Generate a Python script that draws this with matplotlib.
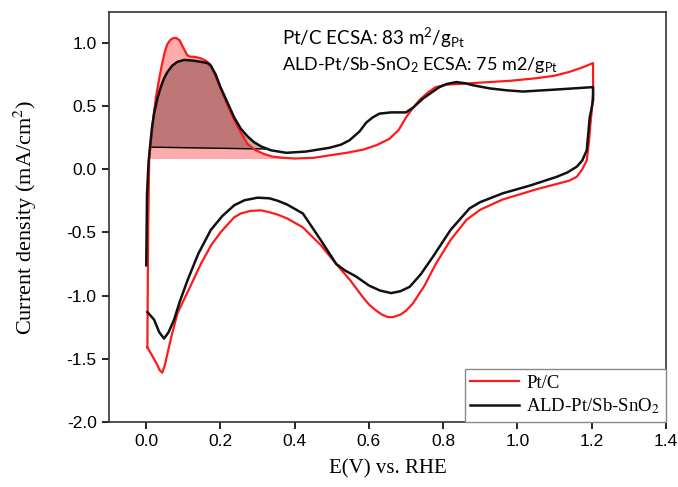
import numpy as np
import matplotlib
matplotlib.use("Agg")
import matplotlib.pyplot as plt

# ---------------- data ----------------
# Pt/C cyclic voltammogram (closed loop: anodic scan then cathodic scan)
ptc_x = [0.003, 0.005, 0.008, 0.012, 0.018, 0.026, 0.035, 0.043, 0.05, 0.057, 0.064, 0.07, 0.08,
         0.09, 0.10, 0.111, 0.12, 0.129, 0.145, 0.16, 0.172, 0.183, 0.2, 0.22, 0.237,
         0.255, 0.273, 0.295, 0.318, 0.34, 0.37, 0.40, 0.45, 0.494, 0.54, 0.584, 0.62,
         0.655, 0.68, 0.70, 0.72, 0.737, 0.76, 0.78, 0.81, 0.84, 0.871, 0.925, 0.98,
         1.05, 1.10, 1.14, 1.17, 1.204,
         1.204, 1.2, 1.197, 1.193, 1.187, 1.175, 1.16, 1.14, 1.114, 1.05, 0.96, 0.90, 0.863, 0.82,
         0.78, 0.75, 0.719, 0.70, 0.685, 0.665, 0.651, 0.635, 0.62, 0.60, 0.583, 0.55, 0.512, 0.47,
         0.422, 0.38, 0.355,
         0.332, 0.309, 0.28, 0.255, 0.237, 0.2, 0.175, 0.147, 0.115, 0.084, 0.068, 0.057,
         0.05, 0.043, 0.036, 0.03, 0.015, 0.003]
ptc_y = [-1.41, -0.5, 0.09, 0.2, 0.38, 0.57, 0.72, 0.84, 0.93, 0.99, 1.02, 1.035, 1.04,
         1.02, 0.96, 0.90, 0.89, 0.89, 0.88, 0.86, 0.83, 0.76, 0.64, 0.50, 0.39,
         0.29, 0.20, 0.15, 0.12, 0.10, 0.09, 0.085, 0.09, 0.11, 0.13, 0.155, 0.19,
         0.24, 0.31, 0.41, 0.49, 0.55, 0.61, 0.65, 0.67, 0.675, 0.68, 0.69, 0.70,
         0.72, 0.74, 0.77, 0.80, 0.84,
         0.60, 0.45, 0.36, 0.22, 0.07, 0.0, -0.06, -0.09, -0.11, -0.16, -0.24, -0.32, -0.40, -0.56,
         -0.75, -0.92, -1.06, -1.12, -1.15, -1.17, -1.17, -1.15, -1.12, -1.07, -1.01, -0.88, -0.75, -0.60,
         -0.46, -0.39, -0.36,
         -0.34, -0.325, -0.33, -0.35, -0.38, -0.50, -0.60, -0.75, -0.95, -1.14, -1.32, -1.46,
         -1.55, -1.61, -1.59, -1.55, -1.47, -1.41]

# ALD-Pt/Sb-SnO2 cyclic voltammogram
ald_x = [0.0, 0.002, 0.006, 0.01, 0.015, 0.021, 0.03, 0.039, 0.048, 0.057, 0.07, 0.084, 0.102,
         0.125, 0.147, 0.165, 0.174, 0.187, 0.20, 0.22, 0.237, 0.255, 0.273, 0.29, 0.31, 0.336,
         0.377, 0.43, 0.494, 0.525, 0.548, 0.575, 0.593, 0.61, 0.628, 0.66, 0.70, 0.72, 0.746,
         0.77, 0.79, 0.81, 0.836, 0.86, 0.88, 0.925, 0.97, 1.015, 1.1, 1.204,
         1.204, 1.2, 1.195, 1.187, 1.175, 1.16, 1.135, 1.106, 1.033, 0.961, 0.90, 0.871, 0.82, 0.773,
         0.74, 0.71, 0.685, 0.66, 0.63, 0.60, 0.566, 0.535, 0.512, 0.47, 0.422, 0.38, 0.355, 0.332,
         0.30, 0.265, 0.237, 0.205, 0.174, 0.14, 0.111, 0.09, 0.075, 0.06, 0.048, 0.035,
         0.021, 0.003]
ald_y = [-0.76, -0.2, 0.05, 0.175, 0.32, 0.44, 0.56, 0.65, 0.72, 0.77, 0.82, 0.85, 0.865,
         0.86, 0.85, 0.84, 0.82, 0.75, 0.65, 0.52, 0.41, 0.32, 0.26, 0.215, 0.18, 0.15,
         0.13, 0.14, 0.17, 0.195, 0.23, 0.30, 0.37, 0.41, 0.44, 0.45, 0.45, 0.49, 0.56,
         0.61, 0.65, 0.675, 0.69, 0.68, 0.665, 0.64, 0.625, 0.615, 0.63, 0.65,
         0.55, 0.48, 0.41, 0.15, 0.07, 0.02, -0.025, -0.06, -0.13, -0.19, -0.26, -0.31, -0.48, -0.69,
         -0.83, -0.93, -0.965, -0.98, -0.96, -0.92, -0.85, -0.80, -0.75, -0.56, -0.35, -0.28, -0.25, -0.23,
         -0.225, -0.245, -0.285, -0.37, -0.48, -0.67, -0.88, -1.05, -1.19, -1.29, -1.34, -1.29,
         -1.19, -1.13]

# hydrogen-desorption integration baselines
ptc_base_x = [0.008, 0.42]
ptc_base_y = [0.085, 0.085]
ald_base_x = [0.01, 0.325]
ald_base_y = [0.175, 0.16]

xticks = [0.0, 0.2, 0.4, 0.6, 0.8, 1.0, 1.2, 1.4]
yticks = [-2.0, -1.5, -1.0, -0.5, 0.0, 0.5, 1.0]

# ---------------- figure ----------------
plt.rcParams['mathtext.fontset'] = 'custom'
plt.rcParams['mathtext.rm'] = 'Lato'
plt.rcParams['mathtext.it'] = 'Lato:italic'
plt.rcParams['mathtext.bf'] = 'Lato:bold'

fig = plt.figure(figsize=(6.78, 4.87), dpi=100)
ax = fig.add_axes([0.161, 0.1335, 0.821, 0.8415])

px, py = np.array(ptc_x), np.array(ptc_y)
ax_, ay_ = np.array(ald_x), np.array(ald_y)

# red fill (Pt/C anodic H-desorption)
n_up = int(np.argmax(px)) + 1
sel = (px[:n_up] >= ptc_base_x[0]) & (px[:n_up] <= ptc_base_x[1])
fx = px[:n_up][sel]
fy = py[:n_up][sel]
ax.fill_between(fx, fy, np.interp(fx, ptc_base_x, ptc_base_y),
                color='#ff0000', alpha=0.33, linewidth=0)

# ALD fill
m_up = int(np.argmax(ax_)) + 1
sel2 = (ax_[:m_up] >= ald_base_x[0]) & (ax_[:m_up] <= ald_base_x[1])
gx = ax_[:m_up][sel2]
gy = ay_[:m_up][sel2]
gb = np.interp(gx, ald_base_x, ald_base_y)
ax.fill_between(gx, gy, gb, color='#3a0a0a', alpha=0.33, linewidth=0)
ax.plot(ald_base_x, ald_base_y, color='black', lw=1.0)

ax.plot(ptc_x, ptc_y, color='#ff1a1a', lw=1.6, label='Pt/C')
ax.plot(ald_x, ald_y, color='#111111', lw=1.8, label='ALD-Pt/Sb-SnO$_2$')

ax.set_xlim(-0.1, 1.4)
ax.set_ylim(-2.0, 1.243)
ax.set_xticks(xticks)
ax.set_yticks(yticks)
ax.set_xticklabels([f'{v:.1f}' for v in xticks], family='Liberation Sans', fontsize=12.5)
ax.set_yticklabels([f'{v:.1f}' for v in yticks], family='Liberation Sans', fontsize=12.5)
ax.tick_params(direction='out', length=5, width=1.2, top=False, right=False, pad=4)
for s in ax.spines.values():
    s.set_linewidth(1.2)
    s.set_color('#333333')

xl = ax.set_xlabel('E(V) vs. RHE', family='Liberation Serif', fontsize=15, labelpad=7)
yl = ax.set_ylabel('Current density (mA/cm$^2$)', family='Liberation Serif', fontsize=16, labelpad=20)
yl.set_math_fontfamily('stix')

ax.text(0.367, 0.987, 'Pt/C ECSA: 83 m$^2$/g$_{\\mathrm{Pt}}$', family='Lato', fontsize=13.5,
        ha='left', va='baseline')
ax.text(0.367, 0.784, 'ALD-Pt/Sb-SnO$_2$ ECSA: 75 m2/g$_{\\mathrm{Pt}}$', family='Lato', fontsize=13,
        ha='left', va='baseline')

leg = ax.legend(loc='lower right', borderaxespad=0, fancybox=False, framealpha=1,
                edgecolor='#888888', prop={'family': 'Liberation Serif', 'size': 13.5},
                handlelength=2.6, handletextpad=0.4, borderpad=0.3, labelspacing=0.25)
leg.get_frame().set_linewidth(1.0)
for t in leg.get_texts():
    t.set_math_fontfamily('stix')

fig.savefig('out.png', dpi=100)
